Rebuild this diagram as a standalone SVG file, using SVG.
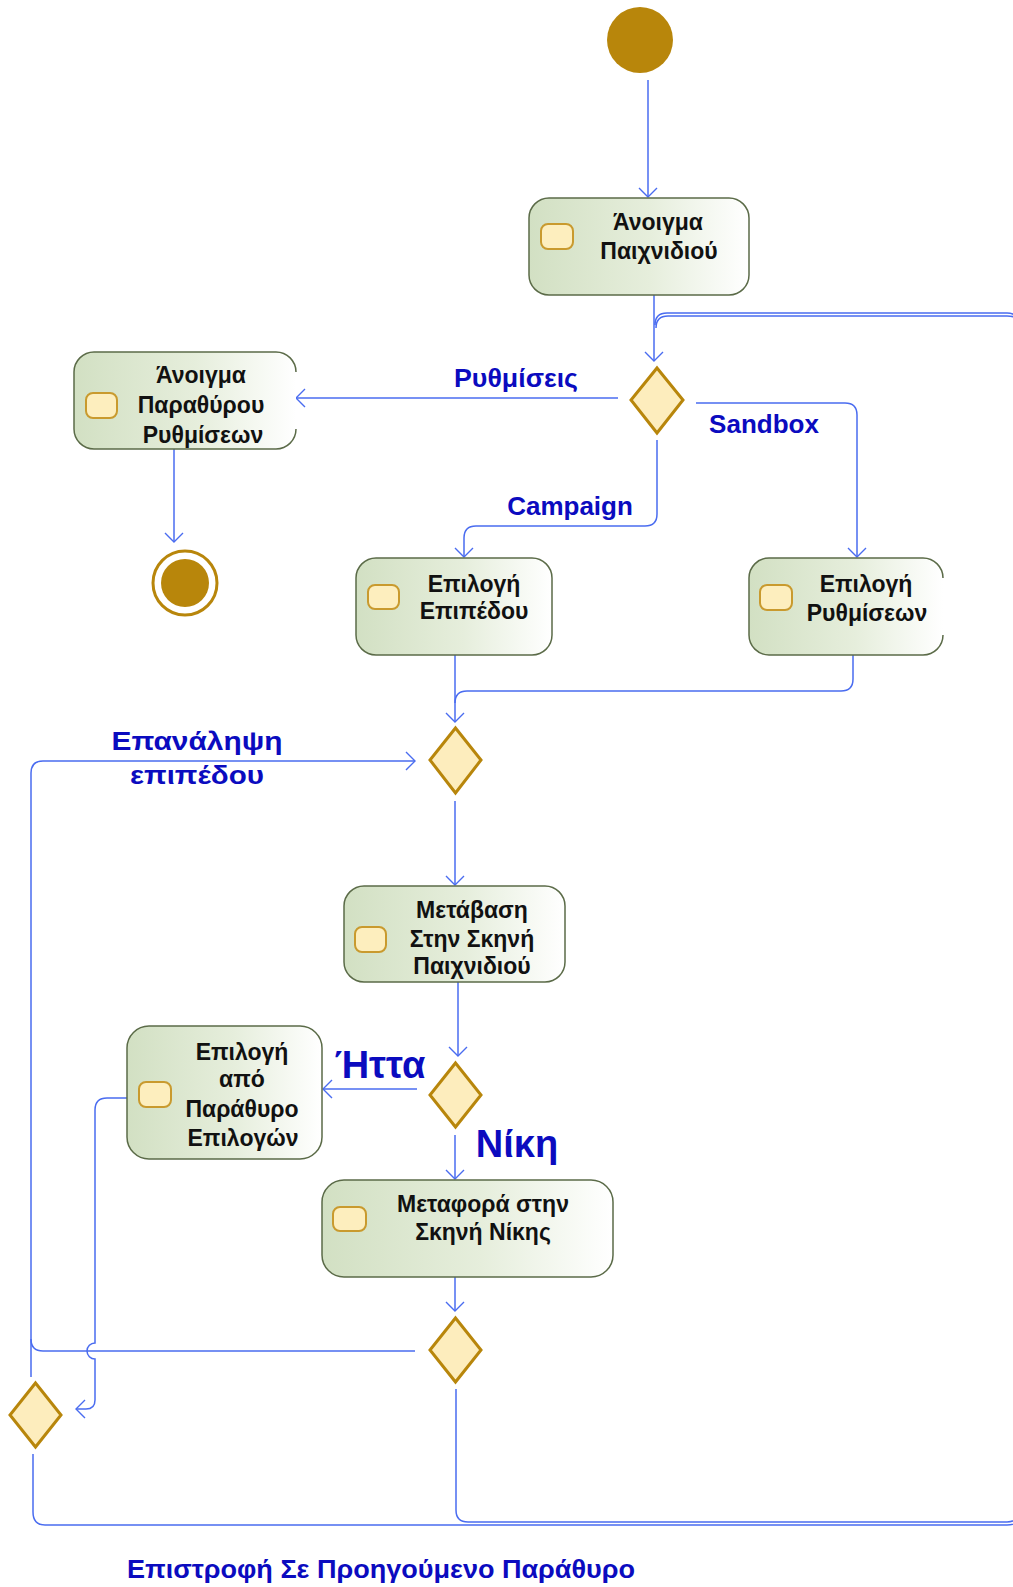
<svg xmlns="http://www.w3.org/2000/svg" width="1013" height="1587" viewBox="0 0 1013 1587">
  <defs>
    <linearGradient id="ng" x1="0" y1="0" x2="1" y2="0">
      <stop offset="0" stop-color="#D2E0C3"/>
      <stop offset="0.55" stop-color="#E6EEDC"/>
      <stop offset="1" stop-color="#FFFFFF"/>
    </linearGradient>
    <marker id="arr" viewBox="-11 -11 13 22" markerWidth="13" markerHeight="22" refX="0" refY="0" orient="auto" markerUnits="userSpaceOnUse">
      <path d="M-9,-9 L0,0 L-9,9" fill="none" stroke="#4A6CF0" stroke-width="1.4"/>
    </marker>
  </defs>
  <style>
    .node { fill: url(#ng); stroke: #5B6B48; stroke-width: 1.5; }
    .nodefill { fill: url(#ng); stroke: none; }
    .border { fill: none; stroke: #5B6B48; stroke-width: 1.5; }
    .icon { fill: #FDEEBE; stroke: #C99A2E; stroke-width: 2; }
    .dia { fill: #FDEDBD; stroke: #B8860B; stroke-width: 3; }
    .ntext { font-family: "Liberation Sans", Arial, sans-serif; font-weight: bold; font-size: 23px; fill: #111; text-anchor: middle; }
    .lbl { font-family: "Liberation Sans", Arial, sans-serif; font-weight: bold; font-size: 26px; fill: #0B0BBF; text-anchor: middle; }
    .big { font-size: 38px; }
    .conn path { fill: none; stroke: #4A6CF0; stroke-width: 1.5; }
  </style>

  <rect width="1013" height="1587" fill="#FFFFFF"/>

  <g id="connectors" class="conn">
    <path d="M648,80 L648,197" marker-end="url(#arr)"/>
    <path d="M654,295 L654,361" marker-end="url(#arr)"/>
    <path d="M618,398 L296,398" marker-end="url(#arr)"/>
    <path d="M696,403 L845,403 Q857,403 857,415 L857,557" marker-end="url(#arr)"/>
    <path d="M657,440 L657,514 Q657,526 645,526 L476,526 Q464,526 464,538 L464,557" marker-end="url(#arr)"/>
    <path d="M174,449 L174,542" marker-end="url(#arr)"/>
    <path d="M455,655 L455,722" marker-end="url(#arr)"/>
    <path d="M853,655 L853,679 Q853,691 841,691 L467,691 Q455,691 455,703"/>
    <path d="M455,801 L455,885" marker-end="url(#arr)"/>
    <path d="M458,982 L458,1056" marker-end="url(#arr)"/>
    <path d="M417,1089 L323,1089" marker-end="url(#arr)"/>
    <path d="M455,1135 L455,1179" marker-end="url(#arr)"/>
    <path d="M455,1277 L455,1311" marker-end="url(#arr)"/>
    <path d="M31,1377 L31,773 Q31,761 43,761 L415,761" marker-end="url(#arr)"/>
    <path d="M415,1351 L43,1351 Q31,1351 31,1339"/>
    <path d="M127,1098 L107,1098 Q95,1098 95,1110 L95,1343 A8,8 0 0 0 95,1359 L95,1400 Q95,1409 86,1409 L76,1409" marker-end="url(#arr)"/>
    <path d="M456,1389 L456,1510 Q456,1522 468,1522 L1007,1522 Q1019,1522 1019,1510 L1019,325 Q1019,313 1007,313 L667,313 Q655,313 655,325"/>
    <path d="M33,1454 L33,1512 Q33,1525 45,1525 L1007,1525 Q1022,1525 1022,1510 L1022,328 Q1022,316 1007,316 L668,316 Q656,316 656,328"/>
  </g>

  <g id="start">
    <circle cx="640" cy="40" r="33" fill="#B8860B"/>
  </g>

  <g id="end">
    <circle cx="185" cy="583" r="32" fill="#FFFFFF" stroke="#B8860B" stroke-width="3"/>
    <circle cx="185" cy="583" r="24" fill="#B8860B"/>
  </g>

  <g id="n-anoigma-paixnidiou">
    <rect class="node" x="529" y="198" width="220" height="97" rx="20"/>
    <rect class="icon" x="541" y="224" width="32" height="25" rx="7"/>
    <text class="ntext" x="658" y="230">Άνοιγμα</text>
    <text class="ntext" x="659" y="259">Παιχνιδιού</text>
  </g>

  <g id="n-anoigma-parathyrou">
    <rect class="nodefill" x="74" y="352" width="222" height="97" rx="20"/>
    <path class="border" d="M296,372 A20,20 0 0 0 276,352 L94,352 A20,20 0 0 0 74,372 L74,429 A20,20 0 0 0 94,449 L276,449 A20,20 0 0 0 296,429"/>
    <rect class="icon" x="86" y="393" width="31" height="25" rx="7"/>
    <text class="ntext" x="201" y="383">Άνοιγμα</text>
    <text class="ntext" x="201" y="413">Παραθύρου</text>
    <text class="ntext" x="203" y="443">Ρυθμίσεων</text>
  </g>

  <g id="n-epilogi-epipedou">
    <rect class="node" x="356" y="558" width="196" height="97" rx="20"/>
    <rect class="icon" x="368" y="585" width="31" height="24" rx="7"/>
    <text class="ntext" x="474" y="592">Επιλογή</text>
    <text class="ntext" x="474" y="619">Επιπέδου</text>
  </g>

  <g id="n-epilogi-rythmiseon">
    <rect class="nodefill" x="749" y="558" width="194" height="97" rx="20"/>
    <path class="border" d="M943,578 A20,20 0 0 0 923,558 L769,558 A20,20 0 0 0 749,578 L749,635 A20,20 0 0 0 769,655 L923,655 A20,20 0 0 0 943,635"/>
    <rect class="icon" x="760" y="585" width="32" height="25" rx="7"/>
    <text class="ntext" x="866" y="592">Επιλογή</text>
    <text class="ntext" x="867" y="621">Ρυθμίσεων</text>
  </g>

  <g id="n-metavasi">
    <rect class="node" x="344" y="886" width="221" height="96" rx="20"/>
    <rect class="icon" x="355" y="927" width="31" height="25" rx="7"/>
    <text class="ntext" x="472" y="918">Μετάβαση</text>
    <text class="ntext" x="472" y="947">Στην Σκηνή</text>
    <text class="ntext" x="472" y="974">Παιχνιδιού</text>
  </g>

  <g id="n-epilogi-parathyro">
    <rect class="node" x="127" y="1026" width="195" height="133" rx="22"/>
    <rect class="icon" x="139" y="1082" width="32" height="25" rx="7"/>
    <text class="ntext" x="242" y="1060">Επιλογή</text>
    <text class="ntext" x="242" y="1087">από</text>
    <text class="ntext" x="242" y="1117">Παράθυρο</text>
    <text class="ntext" x="243" y="1146">Επιλογών</text>
  </g>

  <g id="n-metafora">
    <rect class="node" x="322" y="1180" width="291" height="97" rx="22"/>
    <rect class="icon" x="333" y="1207" width="33" height="24" rx="7"/>
    <text class="ntext" x="483" y="1212">Μεταφορά στην</text>
    <text class="ntext" x="483" y="1240">Σκηνή Νίκης</text>
  </g>

  <g id="d1"><polygon class="dia" points="657,368 683,400 657,433 631,400"/></g>
  <g id="d2"><polygon class="dia" points="455.5,728 481,760 455.5,793 430,760"/></g>
  <g id="d3"><polygon class="dia" points="455.5,1063 481,1095 455.5,1127 430,1095"/></g>
  <g id="d4"><polygon class="dia" points="455.5,1318 481,1350 455.5,1382 430,1350"/></g>
  <g id="d5"><polygon class="dia" points="35.5,1383 61,1415 35.5,1447 10,1415"/></g>

  <g id="labels">
    <text class="lbl" x="516" y="387" textLength="124" lengthAdjust="spacingAndGlyphs">Ρυθμίσεις</text>
    <text class="lbl" x="764" y="433">Sandbox</text>
    <text class="lbl" x="570" y="515">Campaign</text>
    <text class="lbl" x="197" y="750" textLength="171" lengthAdjust="spacingAndGlyphs">Επανάληψη</text>
    <text class="lbl" x="197" y="784" textLength="134" lengthAdjust="spacingAndGlyphs">επιπέδου</text>
    <text class="lbl big" x="380" y="1078">Ήττα</text>
    <text class="lbl big" x="517" y="1157">Νίκη</text>
    <text class="lbl" x="381" y="1578" textLength="508" lengthAdjust="spacingAndGlyphs">Επιστροφή Σε Προηγούμενο Παράθυρο</text>
  </g>
</svg>
